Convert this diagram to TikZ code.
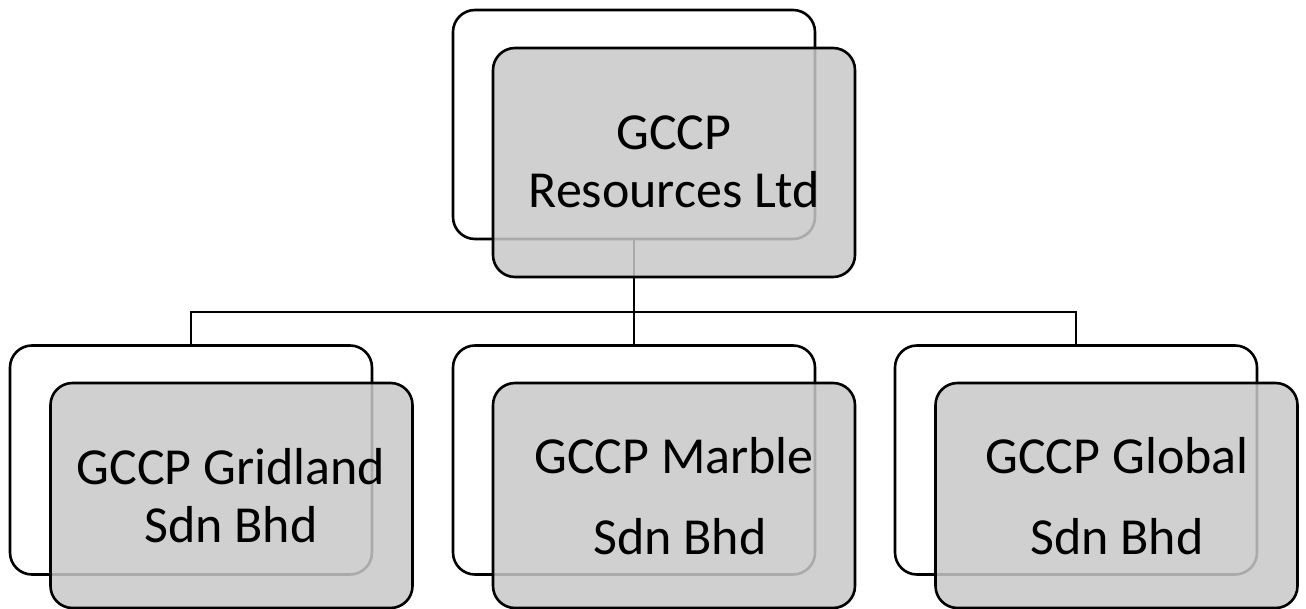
\documentclass[tikz,border=0pt]{standalone}
\usepackage{fontspec}
\setmainfont{Carlito}
\begin{document}
\begin{tikzpicture}[x=1pt,y=-1pt,
  backbox/.style={draw=black,line width=2.6pt,fill=white,rounded corners=22pt,minimum width=362pt,minimum height=229pt,inner sep=0pt},
  frontbox/.style={draw=black,line width=2.6pt,fill={rgb,255:red,200;green,200;blue,200},fill opacity=0.85,rounded corners=22pt,minimum width=362pt,minimum height=229pt,inner sep=0pt},
  conn/.style={draw=black,line width=2.6pt},
  lbl/.style={anchor=base,inner sep=0pt,font=\fontsize{52}{60}\selectfont}]
\useasboundingbox (0,0) rectangle (1306,609);
% back boxes
\node[backbox] (tw) at (634,124.5) {};
\node[backbox] (lw) at (191,460) {};
\node[backbox] (mw) at (634,460) {};
\node[backbox] (rw) at (1076,460) {};
% connectors
\coordinate (j) at (634,312);
\draw[conn] (tw.south) -- (j);
\draw[conn] (lw.north) |- (j);
\draw[conn] (rw.north) |- (j);
\draw[conn] (j) -- (mw.north);
% front boxes
\node[frontbox] (tg) at (674,162.5) {};
\node[frontbox,minimum height=225pt] (lg) at (231.5,495.5) {};
\node[frontbox,minimum height=225pt] (mg) at (674,495.5) {};
\node[frontbox,minimum height=225pt] (rg) at (1116.5,495.5) {};
% labels
\node[lbl] (t1) at (674,150) {GCCP};
\node[lbl] (t2) at (674,208) {Resources Ltd};
\node[lbl] (l1) at (231,484) {GCCP Gridland};
\node[lbl] (l2) at (231,542) {Sdn Bhd};
\node[lbl] (m1) at (674,473) {GCCP Marble};
\node[lbl] (m2) at (680,554) {Sdn Bhd};
\node[lbl] (r1) at (1117,473) {GCCP Global};
\node[lbl] (r2) at (1117,554) {Sdn Bhd};
\end{tikzpicture}
\end{document}
